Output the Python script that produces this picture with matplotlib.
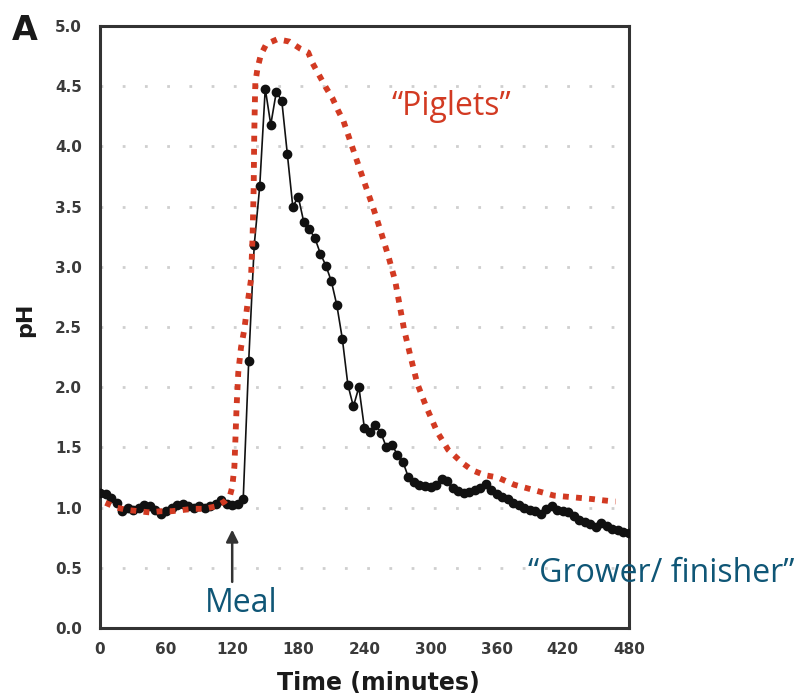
import matplotlib
matplotlib.use("Agg")
import matplotlib.pyplot as plt

# Grower/finisher series (black markers)
grower_t = [0, 5, 10, 15, 20, 25, 30, 35, 40, 45, 50, 55, 60, 65, 70, 75, 80, 85, 90, 95,
            100, 105, 110, 115, 120, 125, 130, 135, 140, 145, 150, 155, 160, 165, 170, 175,
            180, 185, 190, 195, 200, 205, 210, 215, 220, 225, 230, 235, 240, 245, 250, 255,
            260, 265, 270, 275, 280, 285, 290, 295, 300, 305, 310, 315, 320, 325, 330, 335,
            340, 345, 350, 355, 360, 365, 370, 375, 380, 385, 390, 395, 400, 405, 410, 415,
            420, 425, 430, 435, 440, 445, 450, 455, 460, 465, 470, 475, 480]
grower_ph = [1.12, 1.11, 1.08, 1.04, 0.97, 1.00, 0.98, 1.00, 1.02, 1.01, 0.98, 0.95, 0.97,
             1.00, 1.02, 1.03, 1.01, 1.00, 1.01, 1.00, 1.01, 1.03, 1.06, 1.03, 1.02, 1.03,
             1.07, 2.22, 3.18, 3.67, 4.48, 4.18, 4.45, 4.38, 3.94, 3.50, 3.58, 3.37, 3.31,
             3.24, 3.11, 3.01, 2.88, 2.68, 2.40, 2.02, 1.84, 2.00, 1.66, 1.63, 1.69, 1.62,
             1.50, 1.52, 1.44, 1.38, 1.25, 1.21, 1.19, 1.18, 1.17, 1.19, 1.24, 1.22, 1.16,
             1.14, 1.12, 1.13, 1.15, 1.16, 1.20, 1.15, 1.11, 1.09, 1.07, 1.04, 1.02, 1.00,
             0.98, 0.97, 0.95, 0.99, 1.01, 0.98, 0.97, 0.96, 0.93, 0.90, 0.88, 0.86, 0.84,
             0.87, 0.85, 0.82, 0.81, 0.80, 0.79]

# Piglets series (red dotted curve)
piglet_t = [5, 15, 25, 35, 45, 55, 65, 75, 85, 95, 105, 113, 118, 120, 122, 123, 124, 125.5,
            128, 131, 134, 137, 138.5, 139.5, 140, 140.5, 141, 143, 146, 151, 161, 172, 182,
            189, 193, 199, 205, 211, 216, 221, 231, 240, 248, 255, 262, 268, 272, 276, 282,
            288, 296, 306, 316, 329, 338, 349, 361, 376, 388, 400, 412, 424, 436, 448, 457,
            468]
piglet_ph = [1.04, 1.00, 0.98, 0.97, 0.96, 0.97, 0.97, 0.98, 0.99, 0.99, 1.01, 1.05, 1.10,
             1.17, 1.34, 1.59, 1.84, 2.12, 2.33, 2.48, 2.70, 2.89, 3.25, 3.66, 4.09, 4.33,
             4.53, 4.65, 4.76, 4.85, 4.89, 4.87, 4.81, 4.78, 4.69, 4.59, 4.49, 4.40, 4.30,
             4.21, 3.94, 3.70, 3.49, 3.29, 3.08, 2.88, 2.68, 2.48, 2.25, 2.03, 1.84, 1.63,
             1.48, 1.37, 1.31, 1.27, 1.25, 1.19, 1.16, 1.13, 1.10, 1.09, 1.08, 1.07, 1.06,
             1.05]

x_ticks = [0, 60, 120, 180, 240, 300, 360, 420, 480]
y_ticks = [0.0, 0.5, 1.0, 1.5, 2.0, 2.5, 3.0, 3.5, 4.0, 4.5, 5.0]

fig = plt.figure(figsize=(8, 6.96), dpi=100)
ax = fig.add_axes([0.125, 0.0977, 0.661, 0.865])

ax.set_xlim(0, 480)
ax.set_ylim(0, 5)

for yv in y_ticks[1:-1]:
    ax.axhline(yv, color="#cfcfcf", lw=2.0, linestyle=(0, (1, 7)), zorder=1)

ax.plot(grower_t, grower_ph, color="#111111", lw=1.2, marker="o", markersize=6,
        markerfacecolor="#111111", markeredgecolor="#111111", zorder=3)
ax.plot(piglet_t, piglet_ph, color="#d23a22", lw=4.2, linestyle=(0, (1.0, 1.25)),
        dash_capstyle="butt", zorder=4)

ax.set_xticks(x_ticks)
ax.set_xticklabels([str(v) for v in x_ticks])
ax.set_yticks(y_ticks)
ax.set_yticklabels([f"{v:.1f}" for v in y_ticks])
ax.tick_params(axis="both", length=0, labelsize=11, labelcolor="#3a3a3a")
ax.tick_params(axis="y", pad=13)
ax.tick_params(axis="x", pad=10)
for lab in ax.get_xticklabels() + ax.get_yticklabels():
    lab.set_fontweight("bold")

for sp in ax.spines.values():
    sp.set_linewidth(2.2)
    sp.set_color("#333333")

fig.text(378 / 800, 1 - 683 / 696, "Time (minutes)", ha="center", va="center",
         fontsize=17, fontweight="bold", color="#1a1a1a")
fig.text(25 / 800, 1 - 320 / 696, "pH", ha="center", va="center", rotation=90,
         fontsize=16, fontweight="bold", color="#1a1a1a")
fig.text(25 / 800, 1 - 31 / 696, "A", ha="center", va="center",
         fontsize=24, fontweight="bold", color="#1a1a1a")

ax.text(319, 4.33, "\u201cPiglets\u201d", color="#d23a22", fontsize=23,
        family="Open Sans", ha="center", va="center")
ax.annotate("", xy=(120, 0.84), xytext=(120, 0.36),
            arrowprops=dict(arrowstyle="-|>", color="#333333", lw=1.8,
                            mutation_scale=18))
ax.text(128, 0.20, "Meal", color="#0f5676", fontsize=23, family="Open Sans",
        ha="center", va="center")
ax.text(509, 0.45, "\u201cGrower/ finisher\u201d", color="#0f5676", fontsize=23,
        family="Open Sans", ha="center", va="center", clip_on=False)

fig.savefig("out.png", dpi=100)
